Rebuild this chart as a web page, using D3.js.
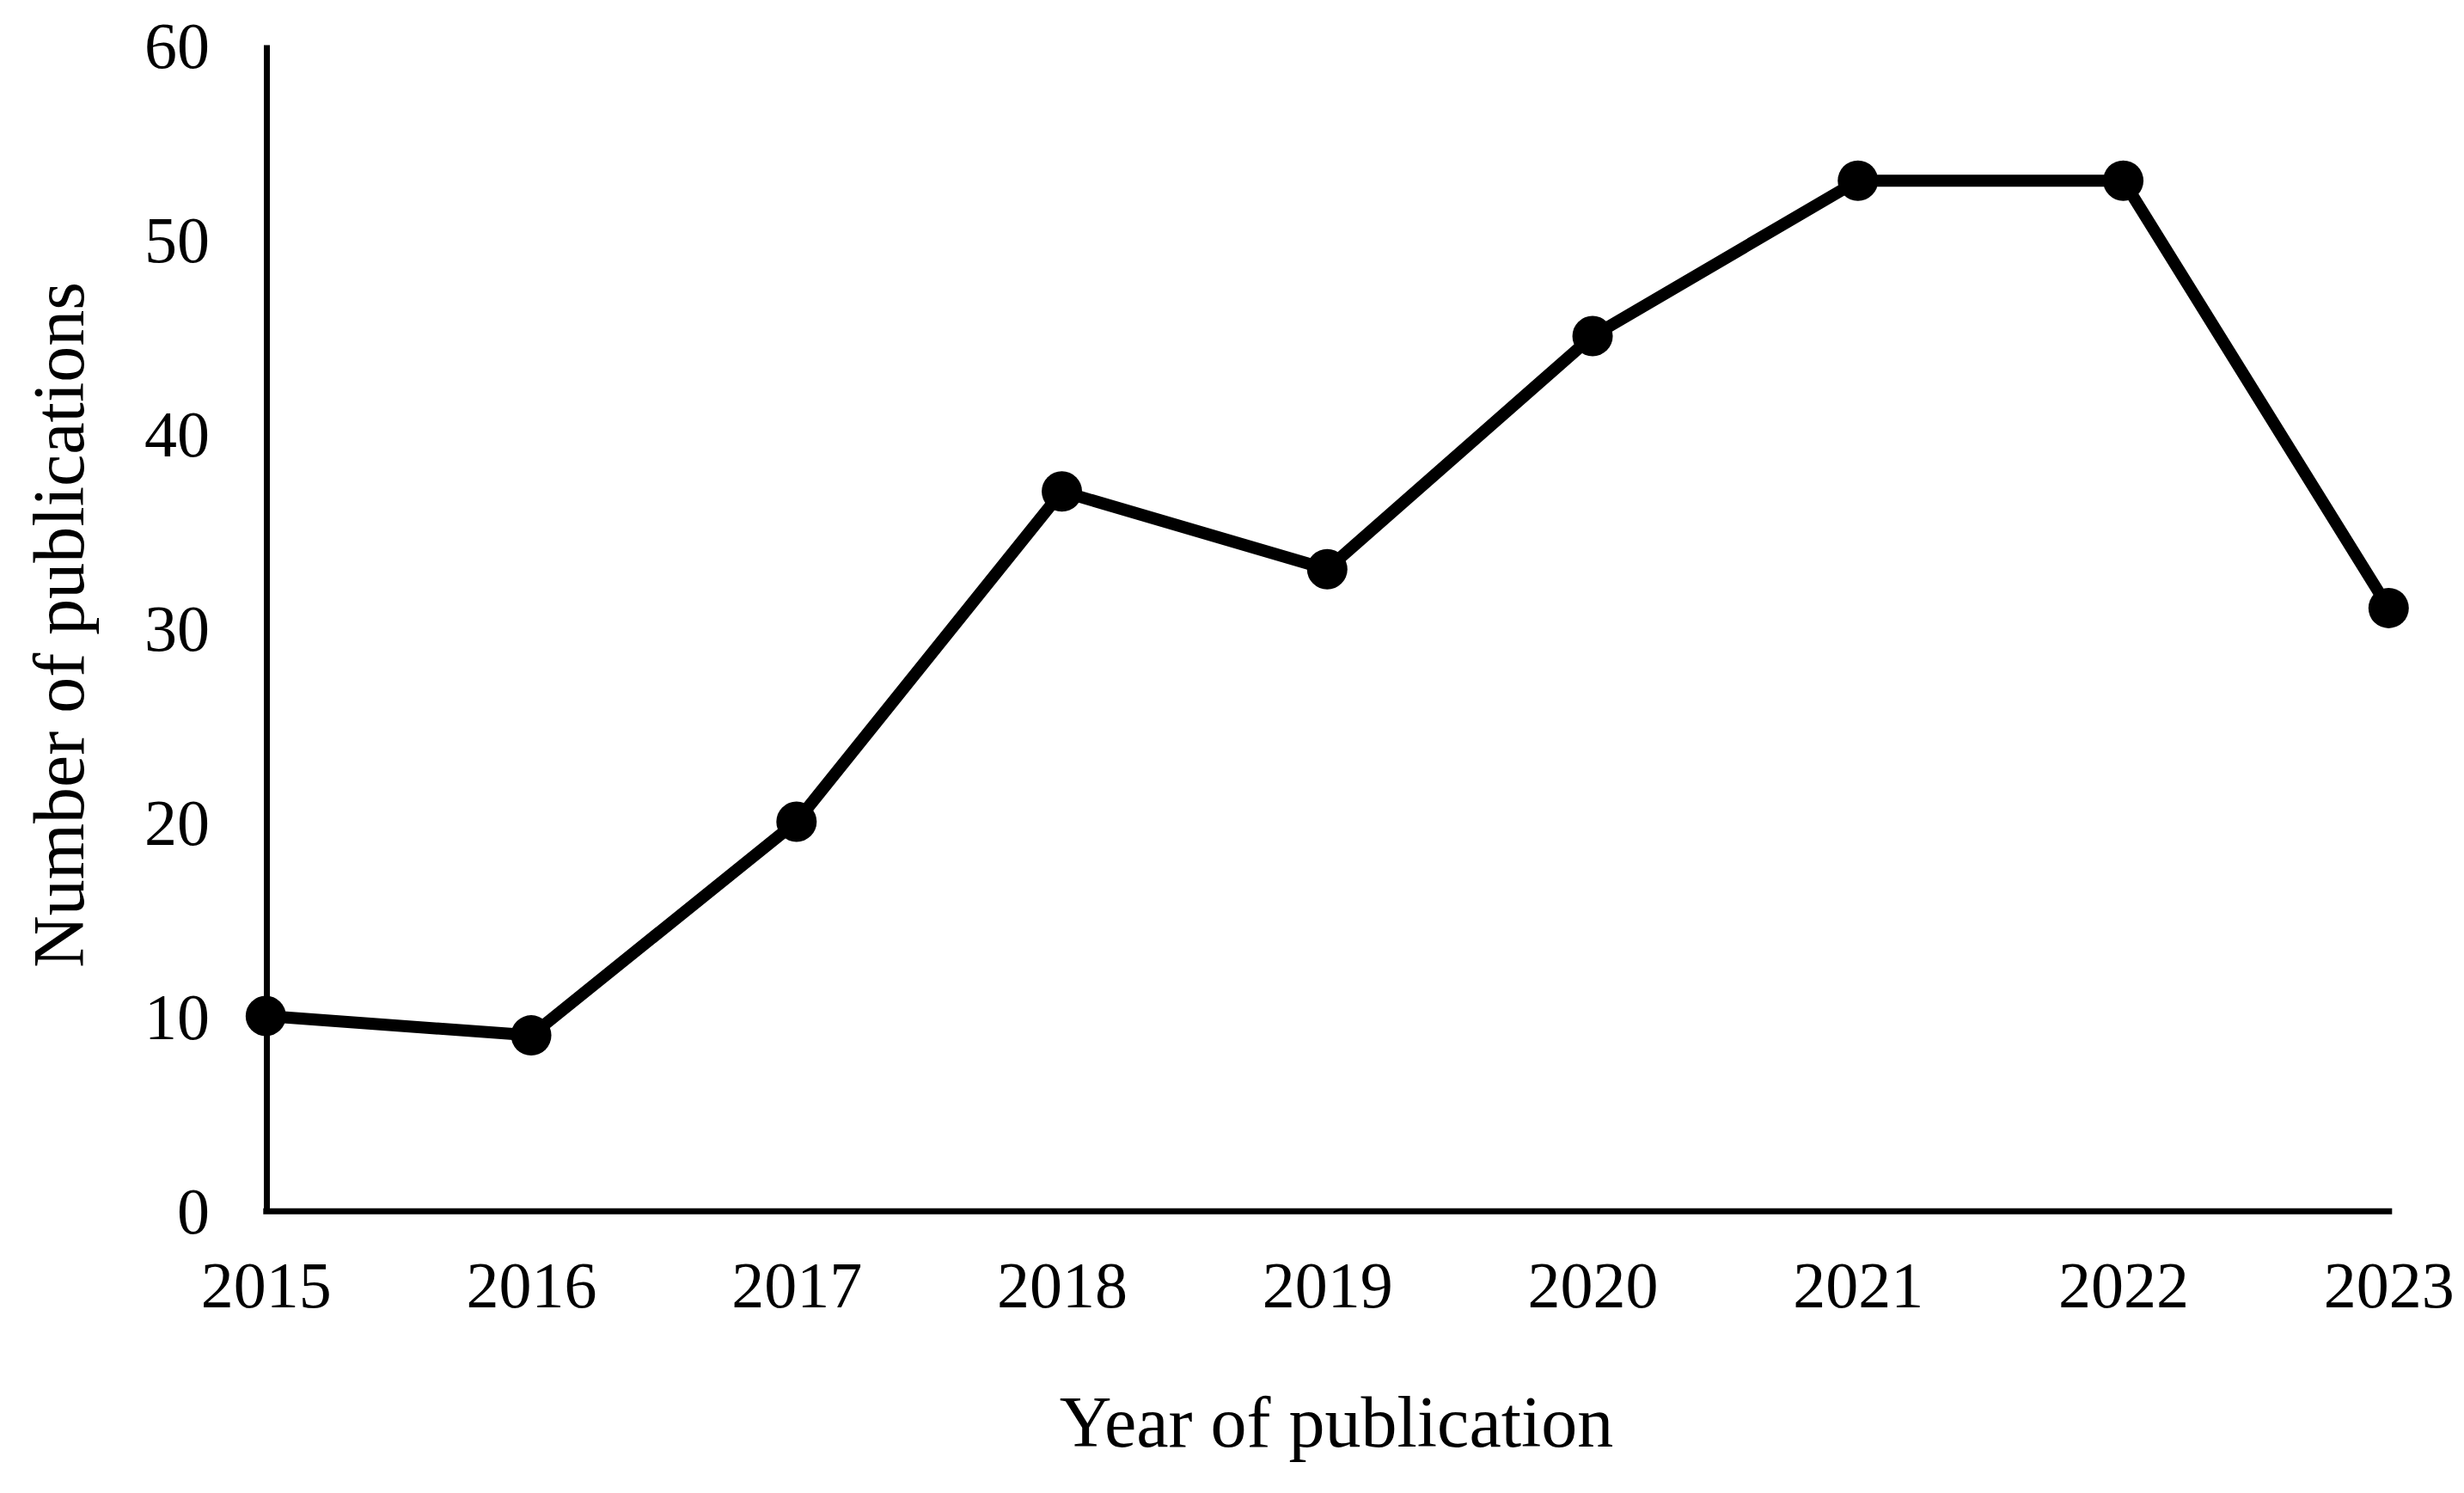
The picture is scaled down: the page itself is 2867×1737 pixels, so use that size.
<!DOCTYPE html>
<html>
<head>
<meta charset="utf-8">
<script src="https://cdn.jsdelivr.net/npm/d3@7"></script>
<style>
  html, body { margin: 0; padding: 0; background: #fff; }
  svg { display: block; }
  text { font-family: "Liberation Serif", "Times New Roman", serif; fill: #000; }
</style>
</head>
<body>
<svg id="chart" width="2867" height="1737"></svg>
<script>
const years = ["2015", "2016", "2017", "2018", "2019", "2020", "2021", "2022", "2023"];
const publications = [10, 9, 20, 37, 33, 45, 53, 53, 31];
const yTicks = [0, 10, 20, 30, 40, 50, 60];
const xTitle = "Year of publication";
const yTitle = "Number of publications";

const svg = d3.select("#chart");

const x = d3.scalePoint().domain(years).range([309.3, 2779.3]);
const y = d3.scaleLinear().domain([0, 60]).range([1408, 52]);

// Y axis
const gy = svg.append("g")
  .attr("transform", "translate(310,0)")
  .call(d3.axisLeft(y).tickValues(yTicks).tickSize(0).tickPadding(66).tickFormat(d3.format("d")));
gy.select(".domain").attr("stroke", "#000").attr("stroke-width", 7).attr("stroke-linecap", "butt");
gy.selectAll(".tick text")
  .attr("font-size", 76)
  .attr("font-family", "Liberation Serif, Times New Roman, serif")
  .attr("dy", "0.345em")
  .attr("fill", "#000");

// X axis
const gx = svg.append("g")
  .attr("transform", "translate(0,1408.7)")
  .call(d3.axisBottom(x).tickSize(0).tickPadding(0));
gx.select(".domain").attr("stroke", "#000").attr("stroke-width", 7).attr("stroke-linecap", "square");
gx.selectAll(".tick text")
  .attr("font-size", 76)
  .attr("font-family", "Liberation Serif, Times New Roman, serif")
  .attr("y", 112.3)
  .attr("dy", 0)
  .attr("fill", "#000");

// Line
const line = d3.line()
  .x((d, i) => x(years[i]))
  .y(d => y(d));

svg.append("path")
  .datum(publications)
  .attr("d", line)
  .attr("fill", "none")
  .attr("stroke", "#000")
  .attr("stroke-width", 14)
  .attr("stroke-linejoin", "round");

svg.append("g")
  .selectAll("circle")
  .data(publications)
  .join("circle")
  .attr("cx", (d, i) => x(years[i]))
  .attr("cy", d => y(d))
  .attr("r", 23.5)
  .attr("fill", "#000");

// Axis titles
svg.append("text")
  .attr("x", 1555)
  .attr("y", 1683)
  .attr("text-anchor", "middle")
  .attr("font-size", 84)
  .text(xTitle);

svg.append("text")
  .attr("transform", "translate(97,727) rotate(-90)")
  .attr("text-anchor", "middle")
  .attr("font-size", 84)
  .text(yTitle);
</script>
</body>
</html>
